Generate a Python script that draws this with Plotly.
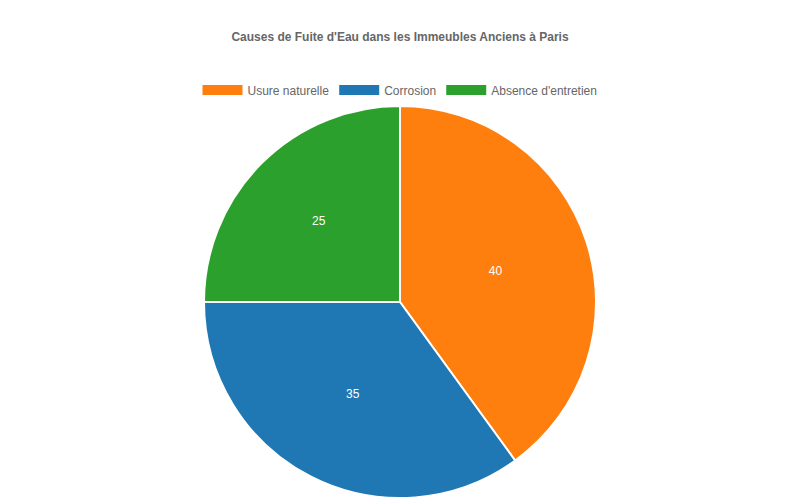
import plotly.graph_objects as go

categories = ["Usure naturelle", "Corrosion", "Absence d'entretien"]
values = [40, 35, 25]
colors = ["#ff7f0e", "#1f77b4", "#2ca02c"]
title_text = "Causes de Fuite d'Eau dans les Immeubles Anciens à Paris"

fig = go.Figure()
fig.add_trace(go.Pie(
    labels=categories,
    values=values,
    sort=False,
    direction="clockwise",
    rotation=0,
    marker=dict(colors=colors, line=dict(color="#ffffff", width=2)),
    textinfo="value",
    textposition="inside",
    insidetextorientation="horizontal",
    textfont=dict(color="#ffffff", size=12, family="Liberation Sans, Arial, sans-serif"),
    domain=dict(x=[0.19, 0.79], y=[0.02, 0.804]),
    showlegend=False,
    hoverinfo="label+value",
))

# legend entries as wide colored boxes
for name, col in zip(categories, colors):
    fig.add_trace(go.Scatter(
        x=[None], y=[None], mode="lines", name=name,
        line=dict(color=col, width=12), showlegend=True, hoverinfo="skip",
    ))

fig.update_layout(
    width=800, height=500,
    margin=dict(l=0, r=0, t=0, b=0),
    paper_bgcolor="#ffffff", plot_bgcolor="#ffffff",
    font=dict(family="Liberation Sans, Arial, sans-serif", color="#666666", size=12),
    title=dict(text="<b>" + title_text + "</b>", x=0.49, xanchor="center",
               y=1 - 29 / 500, yanchor="middle", yref="container",
               font=dict(size=12, color="#666666")),
    legend=dict(orientation="h", x=0.49, xanchor="center", y=1 - 82 / 500, yanchor="middle",
                font=dict(size=12, color="#666666"), itemwidth=40, traceorder="normal"),
    xaxis=dict(visible=False), yaxis=dict(visible=False),
)

fig.write_html("out.html")
